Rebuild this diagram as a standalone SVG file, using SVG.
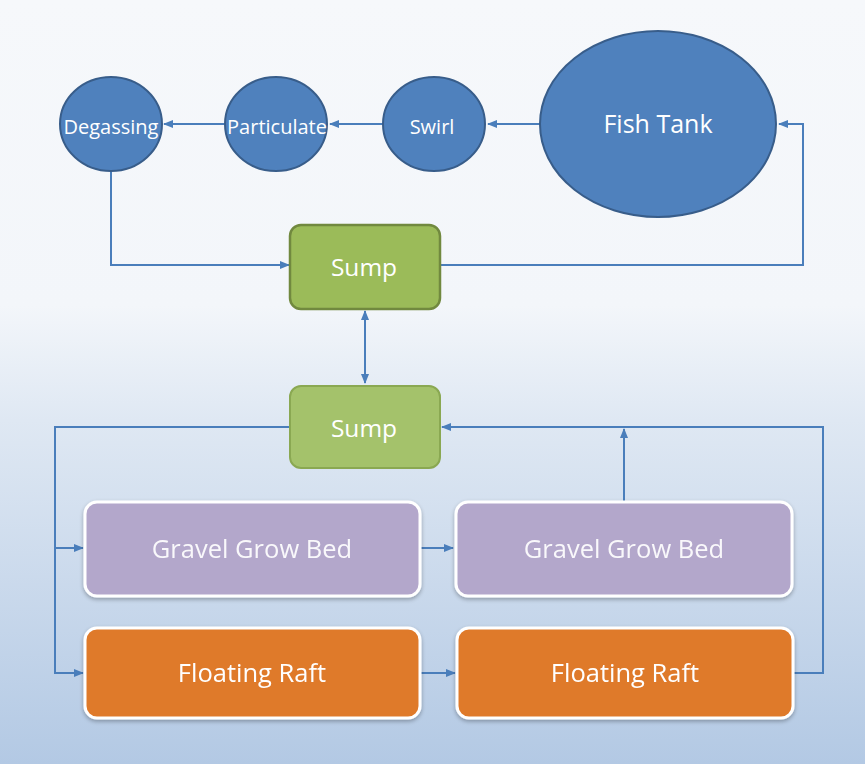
<svg xmlns="http://www.w3.org/2000/svg" width="865" height="764" viewBox="0 0 865 764">
<defs>
<linearGradient id="bg" x1="0" y1="0" x2="0" y2="1">
<stop offset="0" stop-color="#f6f8fb"/>
<stop offset="0.4" stop-color="#f3f6fa"/>
<stop offset="0.55" stop-color="#dfe8f3"/>
<stop offset="1" stop-color="#b3c9e4"/>
</linearGradient>
<marker id="ah" viewBox="0 0 10 10" refX="9" refY="5" markerWidth="5" markerHeight="5" orient="auto-start-reverse" markerUnits="strokeWidth">
<path d="M0,1 L10,5 L0,9 z" fill="#4a7ebb"/>
</marker>
<filter id="sh" x="-10%" y="-10%" width="120%" height="130%">
<feGaussianBlur in="SourceAlpha" stdDeviation="2"/>
<feOffset dx="0" dy="2"/>
<feComponentTransfer><feFuncA type="linear" slope="0.3"/></feComponentTransfer>
<feMerge><feMergeNode/><feMergeNode in="SourceGraphic"/></feMerge>
</filter>
</defs>
<style>
.circ{fill:#4f81bd;stroke:#385d8a;stroke-width:2}
.t{font-family:"Open Sans","Liberation Sans",sans-serif;fill:#ffffff;text-anchor:middle;dominant-baseline:central}
.c{fill:none;stroke:#4a7ebb;stroke-width:2}
.gb{fill:#b3a7cb;stroke:#ffffff;stroke-width:3}
.fr{fill:#df7a2c;stroke:#ffffff;stroke-width:3}
</style>
<rect width="865" height="764" fill="url(#bg)"/>

<g id="connectors">
<path class="c" d="M540,124 L488,124" marker-end="url(#ah)"/>
<path class="c" d="M383,124 L330,124" marker-end="url(#ah)"/>
<path class="c" d="M225,124 L164,124" marker-end="url(#ah)"/>
<path class="c" d="M111,170 L111,265 L289,265" marker-end="url(#ah)"/>
<path class="c" d="M440,265 L803,265 L803,124 L779,124" marker-end="url(#ah)"/>
<path class="c" d="M365,311 L365,383" marker-start="url(#ah)" marker-end="url(#ah)"/>
<path class="c" d="M290,427 L55,427 L55,673 L83,673" marker-end="url(#ah)"/>
<path class="c" d="M55,548 L83,548" marker-end="url(#ah)"/>
<path class="c" d="M421,548 L453,548" marker-end="url(#ah)"/>
<path class="c" d="M421,673 L455,673" marker-end="url(#ah)"/>
<path class="c" d="M794,673 L823,673 L823,427 L442,427" marker-end="url(#ah)"/>
<path class="c" d="M624,502 L624,429" marker-end="url(#ah)"/>
</g>

<g id="fish-tank">
<ellipse class="circ" cx="658" cy="124" rx="118" ry="93"/>
<text class="t" x="658" y="123" font-size="25">Fish Tank</text>
</g>
<g id="swirl">
<ellipse class="circ" cx="434" cy="124" rx="51" ry="47"/>
<text class="t" x="432" y="126" font-size="20">Swirl</text>
</g>
<g id="particulate">
<ellipse class="circ" cx="276" cy="124" rx="51" ry="47"/>
<text class="t" x="277" y="126" font-size="20">Particulate</text>
</g>
<g id="degassing">
<ellipse class="circ" cx="111" cy="124" rx="51" ry="47"/>
<text class="t" x="111" y="126" font-size="20">Degassing</text>
</g>

<g id="sump-1">
<rect x="290" y="225" width="150" height="84" rx="11" fill="#9bbb59" stroke="#71893f" stroke-width="2.5"/>
<text class="t" x="364" y="266" font-size="24.5">Sump</text>
</g>
<g id="sump-2">
<rect x="290" y="386" width="150" height="82" rx="11" fill="#a4c26b" stroke="#8aa852" stroke-width="2"/>
<text class="t" x="364" y="427" font-size="24.5">Sump</text>
</g>

<g id="gravel-1" filter="url(#sh)">
<rect class="gb" x="85" y="502" width="335" height="94" rx="12"/>
<text class="t" x="252" y="548" font-size="25.5" fill-opacity="0.92">Gravel Grow Bed</text>
</g>
<g id="gravel-2" filter="url(#sh)">
<rect class="gb" x="456" y="502" width="336" height="94" rx="12"/>
<text class="t" x="624" y="548" font-size="25.5" fill-opacity="0.92">Gravel Grow Bed</text>
</g>
<g id="raft-1" filter="url(#sh)">
<rect class="fr" x="85" y="628" width="335" height="90" rx="12"/>
<text class="t" x="252" y="672" font-size="25.5">Floating Raft</text>
</g>
<g id="raft-2" filter="url(#sh)">
<rect class="fr" x="457" y="628" width="336" height="90" rx="12"/>
<text class="t" x="625" y="672" font-size="25.5">Floating Raft</text>
</g>
</svg>
